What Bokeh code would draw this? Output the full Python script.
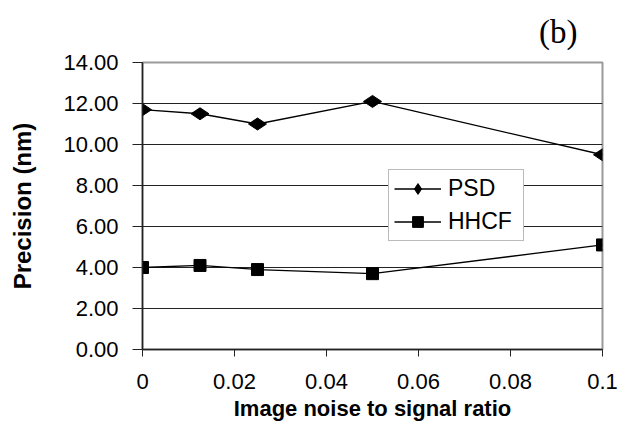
import math
from bokeh.plotting import figure
from bokeh.models import (FixedTicker, CustomJSTickFormatter, NumeralTickFormatter,
                          Legend, LegendItem)
from bokeh.embed import file_html
from bokeh.resources import INLINE

# Data
noise = [0, 0.0125, 0.025, 0.05, 0.1]
psd = [11.7, 11.5, 11.0, 12.1, 9.5]
hhcf = [4.0, 4.1, 3.9, 3.7, 5.1]
x_ticks = [0, 0.02, 0.04, 0.06, 0.08, 0.1]
y_ticks = [0, 2, 4, 6, 8, 10, 12, 14]
series_names = ["PSD", "HHCF"]
x_label = "Image noise to signal ratio"
y_label = "Precision (nm)"
panel_tag = "(b)"

p = figure(width=625, height=428, output_backend="svg", toolbar_location=None,
           x_range=(0, 0.1), y_range=(0, 14),
           min_border_left=142, min_border_right=23,
           min_border_top=62, min_border_bottom=79,
           title=panel_tag)

p.background_fill_color = "white"
p.border_fill_color = "white"
p.outline_line_color = "#9a9a9a"
p.outline_line_width = 2

p.title.align = "right"
p.title.vertical_align = "top"
p.title.text_font = "Liberation Serif"
p.title.text_font_size = "33px"
p.title.text_font_style = "normal"
p.title.text_color = "black"
p.title.offset = 25
p.title.standoff = 22

# grids
p.xgrid.grid_line_color = None
p.ygrid.grid_line_color = "#222222"
p.ygrid.grid_line_width = 1

# axes
for ax in (p.xaxis[0], p.yaxis[0]):
    ax.axis_line_color = "#222222"
    ax.axis_line_width = 1.5
    ax.major_tick_line_color = "#222222"
    ax.major_tick_line_width = 1
    ax.major_tick_in = 0
    ax.minor_tick_line_color = None
    ax.major_label_text_font = "Liberation Sans"
    ax.major_label_text_font_size = "22px"
    ax.major_label_text_color = "black"
    ax.axis_label_text_font = "Liberation Sans"
    ax.axis_label_text_font_style = "bold"
    ax.axis_label_text_color = "black"

p.xaxis.ticker = FixedTicker(ticks=x_ticks)
p.yaxis.ticker = FixedTicker(ticks=y_ticks)
p.xaxis.formatter = CustomJSTickFormatter(code="return String(Math.round(tick*1000)/1000)")
p.yaxis.formatter = NumeralTickFormatter(format="0.00")

p.xaxis.major_tick_out = 7
p.yaxis.major_tick_out = 10
p.xaxis.major_label_standoff = 17
p.yaxis.major_label_standoff = 14

p.xaxis.axis_label = x_label
p.yaxis.axis_label = y_label
p.xaxis.axis_label_text_font_size = "22px"
p.yaxis.axis_label_text_font_size = "24px"
p.xaxis.axis_label_standoff = 4
p.yaxis.axis_label_standoff = 24

# series
lp = p.line(noise, psd, line_color="black", line_width=1.3)
sp = p.scatter(noise, psd, marker="diamond", size=18, angle=math.pi / 2,
               fill_color="black", line_color="black")
lh = p.line(noise, hhcf, line_color="black", line_width=1.3)
sh = p.scatter(noise, hhcf, marker="square", size=12,
               fill_color="black", line_color="black")

legend = Legend(items=[LegendItem(label=series_names[0], renderers=[lp, sp]),
                       LegendItem(label=series_names[1], renderers=[lh, sh])],
                location=(246, 108))
legend.label_text_font = "Liberation Sans"
legend.label_text_font_size = "23px"
legend.label_text_color = "black"
legend.border_line_color = "#777777"
legend.border_line_width = 1.5
legend.background_fill_color = "white"
legend.background_fill_alpha = 1
legend.padding = 5
legend.spacing = 6
legend.margin = 0
legend.glyph_width = 47
legend.glyph_height = 27
legend.label_height = 27
legend.label_width = 70
legend.label_standoff = 7
p.add_layout(legend)

open("out.html", "w").write(file_html(p, INLINE))
